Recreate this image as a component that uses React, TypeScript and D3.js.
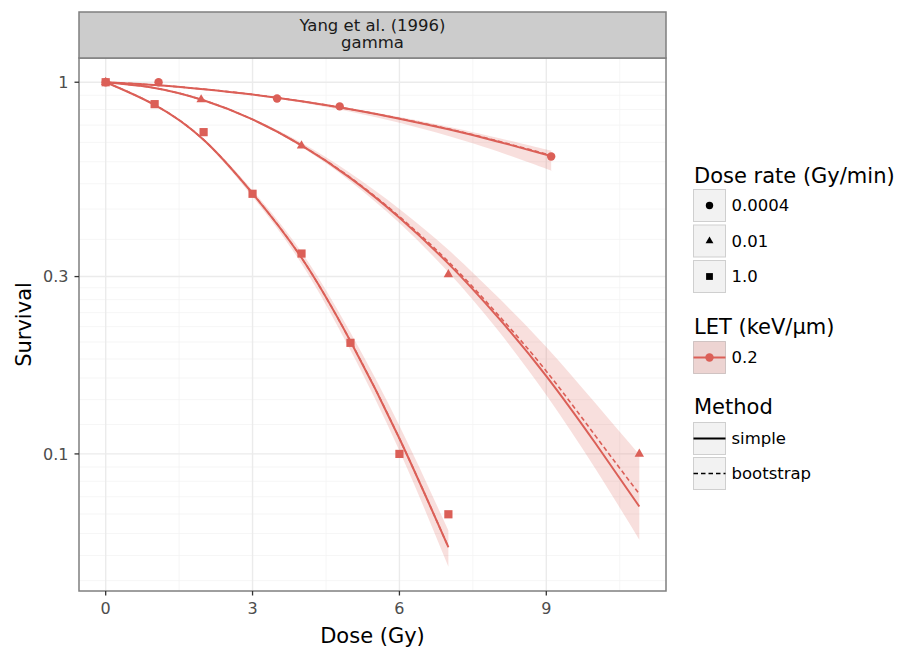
import React from "react";
import * as d3 from "d3";

// ---------- data ----------
const stripLines = ["Yang et al. (1996)", "gamma"];
const doseRateLabels = ["0.0004", "0.01", "1.0"];
const letLabels = ["0.2"];
const methodLabels = ["simple", "bootstrap"];
const xTicks = [0, 3, 6, 9];
const xMinor = [1.5, 4.5, 7.5, 10.5];
const yTicks = [0.1, 0.3, 1];
const yTickLabels = ["0.1", "0.3", "1"];
const yMinor = [
  0.9222, 0.8444, 0.7667, 0.6889, 0.6111, 0.5333, 0.4556, 0.3778,
  0.28, 0.26, 0.24, 0.22, 0.2, 0.18, 0.16, 0.14, 0.12,
  0.0922, 0.0844, 0.0767, 0.0689, 0.0611, 0.0533, 0.0456,
];

// observed survival (shape per dose rate)
const obsDoseA = [0, 1.08, 3.5, 4.78, 9.1];
const obsSurvA = [1.0, 1.0, 0.904, 0.861, 0.631];
const obsDoseB = [0, 1.95, 4.0, 7.0, 10.9];
const obsSurvB = [1.0, 0.898, 0.675, 0.304, 0.1];
const obsDoseC = [0, 1, 2, 3, 4, 5, 6, 7];
const obsSurvC = [1.0, 0.873, 0.734, 0.501, 0.346, 0.199, 0.1, 0.0688];

// fitted curves (simple / bootstrap) and ribbons
const fitDoseA = [0, 1, 2, 3, 4, 5, 6, 7, 8, 9, 9.1];
const fitSimpleA = [1, 0.983, 0.958, 0.927, 0.889, 0.846, 0.798, 0.747, 0.693, 0.638, 0.633];
const fitBootA = [1, 0.983, 0.958, 0.927, 0.889, 0.846, 0.799, 0.749, 0.695, 0.641, 0.636];
const fitLowA = [1, 0.983, 0.957, 0.924, 0.882, 0.833, 0.778, 0.717, 0.652, 0.585, 0.578];
const fitHighA = [1, 0.983, 0.958, 0.928, 0.892, 0.851, 0.806, 0.759, 0.709, 0.659, 0.655];

const fitDoseB = [0, 1, 2, 3, 4, 5, 6, 7, 8, 9, 10, 10.9];
const fitSimpleB = [1, 0.965, 0.894, 0.794, 0.676, 0.552, 0.432, 0.325, 0.234, 0.162, 0.107, 0.0722];
const fitBootB = [1, 0.965, 0.894, 0.794, 0.676, 0.554, 0.435, 0.329, 0.238, 0.167, 0.112, 0.078];
const fitLowB = [1, 0.965, 0.893, 0.791, 0.669, 0.541, 0.418, 0.308, 0.216, 0.144, 0.0913, 0.0588];
const fitHighB = [1, 0.965, 0.896, 0.799, 0.687, 0.569, 0.456, 0.354, 0.265, 0.194, 0.137, 0.0995];

const fitDoseC = [0, 1, 2, 3, 4, 5, 6, 7];
const fitSimpleC = [1, 0.869, 0.7, 0.502, 0.337, 0.201, 0.11, 0.0561];
const fitBootC = [1, 0.869, 0.7, 0.502, 0.337, 0.201, 0.11, 0.0561];
const fitLowC = [1, 0.867, 0.694, 0.492, 0.325, 0.19, 0.102, 0.0497];
const fitHighC = [1, 0.871, 0.706, 0.512, 0.349, 0.212, 0.119, 0.0622];

// ---------- style ----------
const RED = "#db5f57";
const FONT = "DejaVu Sans";
const P = { left: 79, right: 666, top: 58, bottom: 591 };
const STRIP = { top: 12, bottom: 58 };

type Shape = "circle" | "triangle" | "square";

function marker(shape: Shape, cx: number, cy: number, size: number, fill: string, key: string) {
  if (shape === "circle") return <circle key={key} cx={cx} cy={cy} r={size / 2} fill={fill} />;
  if (shape === "square")
    return <rect key={key} x={cx - size / 2} y={cy - size / 2} width={size} height={size} fill={fill} />;
  const s = size * 1.15;
  const h = s * 0.866;
  return (
    <path
      key={key}
      d={`M${cx},${cy - (2 * h) / 3}L${cx + s / 2},${cy + h / 3}L${cx - s / 2},${cy + h / 3}Z`}
      fill={fill}
    />
  );
}

export default function App() {
  const curves = [
    { shape: "circle" as Shape, od: obsDoseA, os: obsSurvA, fd: fitDoseA, s: fitSimpleA, b: fitBootA, lo: fitLowA, hi: fitHighA },
    { shape: "triangle" as Shape, od: obsDoseB, os: obsSurvB, fd: fitDoseB, s: fitSimpleB, b: fitBootB, lo: fitLowB, hi: fitHighB },
    { shape: "square" as Shape, od: obsDoseC, os: obsSurvC, fd: fitDoseC, s: fitSimpleC, b: fitBootC, lo: fitLowC, hi: fitHighC },
  ];

  const allX = curves.flatMap((c) => [...c.od, ...c.fd]);
  const allY = curves.flatMap((c) => [...c.os, ...c.lo, ...c.hi]);
  const [x0, x1] = d3.extent(allX) as [number, number];
  const xPad = (x1 - x0) * 0.05;
  const x = d3.scaleLinear().domain([x0 - xPad, x1 + xPad]).range([P.left, P.right]);
  const [ly0, ly1] = (d3.extent(allY) as [number, number]).map(Math.log10);
  const yPad = (ly1 - ly0) * 0.05;
  const y = d3.scaleLog().domain([10 ** (ly0 - yPad), 10 ** (ly1 + yPad)]).range([P.bottom, P.top]);

  const line = d3
    .line<[number, number]>()
    .x((d) => x(d[0]))
    .y((d) => y(d[1]))
    .curve(d3.curveNatural);
  const area = d3
    .area<[number, number, number]>()
    .x((d) => x(d[0]))
    .y0((d) => y(d[1]))
    .y1((d) => y(d[2]))
    .curve(d3.curveNatural);

  const legX = 693.5;
  const keyW = 32;
  const doseKeysY = [189.5, 225, 260.5];
  const letKeyY = 341.5;
  const methodKeysY = [422.5, 457.5];
  const shapes: Shape[] = ["circle", "triangle", "square"];

  return (
    <svg
      width={902}
      height={648}
      style={{ position: "absolute", left: 0, top: 0, background: "#fff" }}
      fontFamily={FONT}
    >
      <rect x={0} y={0} width={902} height={648} fill="#fff" />
      {/* panel grid */}
      {yMinor.map((v, i) => (
        <line key={"ym" + i} x1={P.left} x2={P.right} y1={y(v)} y2={y(v)} stroke="#f4f4f4" strokeWidth={0.8} />
      ))}
      {xMinor.map((v, i) => (
        <line key={"xm" + i} x1={x(v)} x2={x(v)} y1={P.top} y2={P.bottom} stroke="#f4f4f4" strokeWidth={0.8} />
      ))}
      {yTicks.map((v, i) => (
        <line key={"yg" + i} x1={P.left} x2={P.right} y1={y(v)} y2={y(v)} stroke="#ebebeb" strokeWidth={1.4} />
      ))}
      {xTicks.map((v, i) => (
        <line key={"xg" + i} x1={x(v)} x2={x(v)} y1={P.top} y2={P.bottom} stroke="#ebebeb" strokeWidth={1.4} />
      ))}

      {/* ribbons */}
      {curves.map((c, i) => (
        <path
          key={"rb" + i}
          d={area(c.fd.map((d, j) => [d, c.lo[j], c.hi[j]] as [number, number, number])) || ""}
          fill={RED}
          fillOpacity={0.2}
        />
      ))}
      {/* simple lines */}
      {curves.map((c, i) => (
        <path
          key={"ls" + i}
          d={line(c.fd.map((d, j) => [d, c.s[j]] as [number, number])) || ""}
          fill="none"
          stroke={RED}
          strokeWidth={2}
        />
      ))}
      {/* bootstrap lines */}
      {curves.map((c, i) => (
        <path
          key={"lb" + i}
          d={line(c.fd.map((d, j) => [d, c.b[j]] as [number, number])) || ""}
          fill="none"
          stroke={RED}
          strokeWidth={1.6}
          strokeDasharray="4.5,3"
        />
      ))}
      {/* points */}
      {curves.map((c, i) =>
        c.od.map((d, j) => marker(c.shape, x(d), y(c.os[j]), c.shape === "circle" ? 8.4 : 8.2, RED, `p${i}-${j}`))
      )}

      {/* panel border */}
      <rect
        x={P.left}
        y={P.top}
        width={P.right - P.left}
        height={P.bottom - P.top}
        fill="none"
        stroke="#7f7f7f"
        strokeWidth={1.5}
      />
      {/* strip */}
      <rect
        x={P.left}
        y={STRIP.top}
        width={P.right - P.left}
        height={STRIP.bottom - STRIP.top}
        fill="#cccccc"
        stroke="#7f7f7f"
        strokeWidth={1.5}
      />
      {stripLines.map((t, i) => (
        <text key={"st" + i} x={(P.left + P.right) / 2} y={31.2 + i * 16.4} fontSize={16.5} fill="#1a1a1a" textAnchor="middle">
          {t}
        </text>
      ))}

      {/* axes ticks */}
      {xTicks.map((v, i) => (
        <g key={"xt" + i}>
          <line x1={x(v)} x2={x(v)} y1={P.bottom} y2={P.bottom + 4.5} stroke="#333" strokeWidth={1.3} />
          <text x={x(v)} y={613.5} fontSize={16} fill="#4d4d4d" textAnchor="middle">
            {String(v)}
          </text>
        </g>
      ))}
      {yTicks.map((v, i) => (
        <g key={"yt" + i}>
          <line x1={P.left - 4.5} x2={P.left} y1={y(v)} y2={y(v)} stroke="#333" strokeWidth={1.3} />
          <text x={68.5} y={y(v) + 5.8} fontSize={16} fill="#4d4d4d" textAnchor="end">
            {yTickLabels[i]}
          </text>
        </g>
      ))}
      <text x={(P.left + P.right) / 2} y={642.7} fontSize={21} textAnchor="middle" fill="#000">
        Dose (Gy)
      </text>
      <text
        transform={`translate(30.5,${(P.top + P.bottom) / 2}) rotate(-90)`}
        fontSize={21}
        textAnchor="middle"
        fill="#000"
      >
        Survival
      </text>

      {/* legend: dose rate */}
      <text x={694} y={182.7} fontSize={21} fill="#000">
        Dose rate (Gy/min)
      </text>
      {doseRateLabels.map((lab, i) => (
        <g key={"ld" + i}>
          <rect x={legX} y={doseKeysY[i]} width={keyW} height={keyW} fill="#f2f2f2" stroke="#cfcfcf" strokeWidth={1} />
          {marker(shapes[i], legX + keyW / 2, doseKeysY[i] + keyW / 2, i === 0 ? 7.4 : 6.8, "#000", "lm" + i)}
          <text x={731.5} y={doseKeysY[i] + keyW / 2 + 5.9} fontSize={16.5} fill="#000">
            {lab}
          </text>
        </g>
      ))}

      {/* legend: LET */}
      <text x={694} y={334.3} fontSize={21} fill="#000">
        LET (keV/µm)
      </text>
      {letLabels.map((lab, i) => (
        <g key={"ll" + i}>
          <rect x={legX} y={letKeyY} width={keyW} height={keyW} fill="#f2f2f2" stroke="#cfcfcf" strokeWidth={1} />
          <rect x={legX} y={letKeyY} width={keyW} height={keyW} fill={RED} fillOpacity={0.2} />
          <line x1={legX} x2={legX + keyW} y1={letKeyY + keyW / 2} y2={letKeyY + keyW / 2} stroke={RED} strokeWidth={2} />
          <circle cx={legX + keyW / 2} cy={letKeyY + keyW / 2} r={4.2} fill={RED} />
          <text x={731.5} y={letKeyY + keyW / 2 + 5.9} fontSize={16.5} fill="#000">
            {lab}
          </text>
        </g>
      ))}

      {/* legend: method */}
      <text x={694} y={414} fontSize={21} fill="#000">
        Method
      </text>
      {methodLabels.map((lab, i) => (
        <g key={"lmth" + i}>
          <rect x={legX} y={methodKeysY[i]} width={keyW} height={keyW} fill="#f2f2f2" stroke="#cfcfcf" strokeWidth={1} />
          <line
            x1={legX}
            x2={legX + keyW}
            y1={methodKeysY[i] + keyW / 2}
            y2={methodKeysY[i] + keyW / 2}
            stroke="#000"
            strokeWidth={i === 0 ? 2 : 1.6}
            strokeDasharray={i === 0 ? undefined : "4.5,3"}
          />
          <text x={731.5} y={methodKeysY[i] + keyW / 2 + 5.9} fontSize={16.5} fill="#000">
            {lab}
          </text>
        </g>
      ))}
    </svg>
  );
}
